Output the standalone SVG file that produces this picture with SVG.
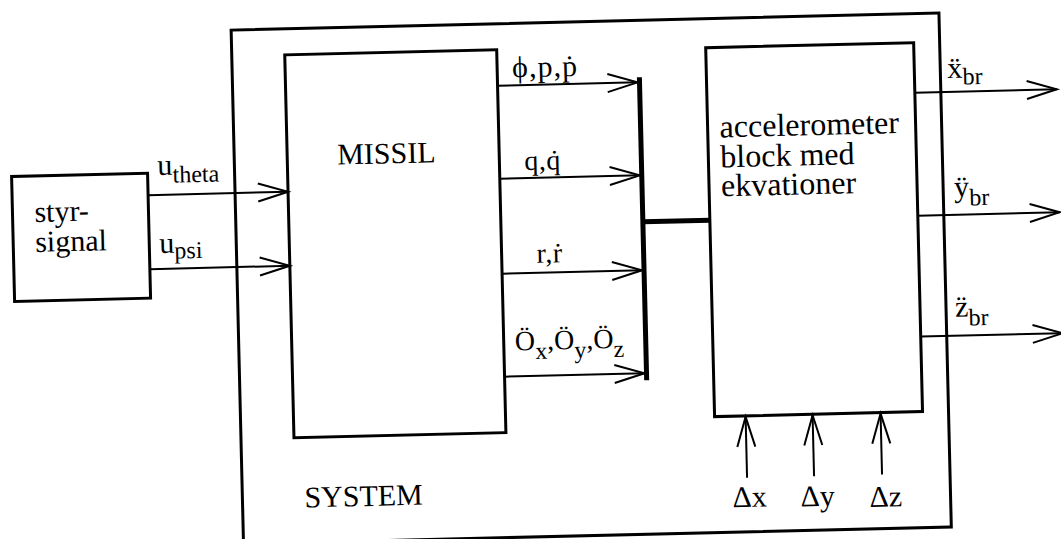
<svg xmlns="http://www.w3.org/2000/svg" width="1061" height="539" viewBox="0 0 1061 539">
<style>
.t{font-family:"Liberation Serif","Times New Roman","DejaVu Serif",serif;font-size:30px;fill:#000}
.m{font-size:28px}
.s{font-size:24px}
.a{font-size:32px}
.box{fill:none;stroke:#000;stroke-width:3}
.ln{fill:none;stroke:#000;stroke-width:2}
.bus{fill:none;stroke:#000;stroke-width:5}
</style>
<defs>
<marker id="ah" markerUnits="userSpaceOnUse" markerWidth="40" markerHeight="24" refX="0" refY="0" orient="auto" overflow="visible">
<path d="M-30,-9 L0,0 L-30,9" fill="none" stroke="#000" stroke-width="2"/>
</marker>
</defs>
<rect width="1061" height="539" fill="#fff"/>
<g transform="rotate(-1.38 530 270)" font-family="Liberation Serif, serif">
<g id="system">
<rect class="box" x="237" y="23" width="708" height="514"/>
<text class="t" x="299" y="502">SYSTEM</text>
</g>
<g id="styrsignal">
<rect class="box" x="14" y="164" width="136" height="125"/>
<text class="t" x="36" y="210">styr-</text>
<text class="t" x="36" y="240">signal</text>
</g>
<g id="missil">
<rect class="box" x="290" y="49" width="212" height="383"/>
<text class="t" x="340" y="160">MISSIL</text>
</g>
<g id="accelerometer">
<rect class="box" x="711" y="52" width="208" height="369"/>
<text class="t a" x="723" y="142">accelerometer</text>
<text class="t a" x="723" y="172">block med</text>
<text class="t a" x="723" y="201">ekvationer</text>
</g>
<g id="connectors">
<line class="ln" x1="150" y1="186" x2="290" y2="186" marker-end="url(#ah)"/>
<line class="ln" x1="150" y1="260" x2="290" y2="260" marker-end="url(#ah)"/>
<line class="ln" x1="502" y1="85" x2="642" y2="85" marker-end="url(#ah)"/>
<line class="ln" x1="502" y1="178" x2="642" y2="178" marker-end="url(#ah)"/>
<line class="ln" x1="502" y1="273" x2="642" y2="273" marker-end="url(#ah)"/>
<line class="ln" x1="502" y1="376" x2="642" y2="376" marker-end="url(#ah)"/>
<line class="bus" x1="644" y1="80" x2="644" y2="383"/>
<line class="bus" x1="644" y1="224.5" x2="711" y2="224.5"/>
<line class="ln" x1="919" y1="102" x2="1061" y2="102" marker-end="url(#ah)"/>
<line class="ln" x1="919" y1="225" x2="1061" y2="225" marker-end="url(#ah)"/>
<line class="ln" x1="919" y1="346" x2="1061" y2="346" marker-end="url(#ah)"/>
<line class="ln" x1="742" y1="483" x2="742" y2="422" marker-end="url(#ah)"/>
<line class="ln" x1="809" y1="483" x2="809" y2="422" marker-end="url(#ah)"/>
<line class="ln" x1="877" y1="483" x2="877" y2="422" marker-end="url(#ah)"/>
</g>
<g id="labels">
<text class="t" x="160" y="166">u<tspan class="s" dy="8">theta</tspan></text>
<text class="t" x="160" y="244">u<tspan class="s" dy="6">psi</tspan></text>
<text class="t" x="517" y="77" letter-spacing="1">ϕ,p,ṗ</text>
<text class="t m" x="527" y="170" letter-spacing="0.5">q,q̇</text>
<text class="t m" x="537" y="263" letter-spacing="0.5">r,ṙ</text>
<text class="t m" x="513" y="350">Ö<tspan class="s" dy="9">x</tspan><tspan dy="-9">,Ö</tspan><tspan class="s" dy="9">y</tspan><tspan dy="-9">,Ö</tspan><tspan class="s" dy="9">z</tspan></text>
<text class="t" x="952" y="88">ẍ<tspan class="s" dy="7">br</tspan></text>
<text class="t" x="956" y="207">ÿ<tspan class="s" dy="9">br</tspan></text>
<text class="t" x="954" y="327">z̈<tspan class="s" dy="9">br</tspan></text>
<text class="t" x="727" y="512">Δx</text>
<text class="t" x="795" y="513">Δy</text>
<text class="t" x="864" y="515">Δz</text>
</g>
</g>
</svg>
